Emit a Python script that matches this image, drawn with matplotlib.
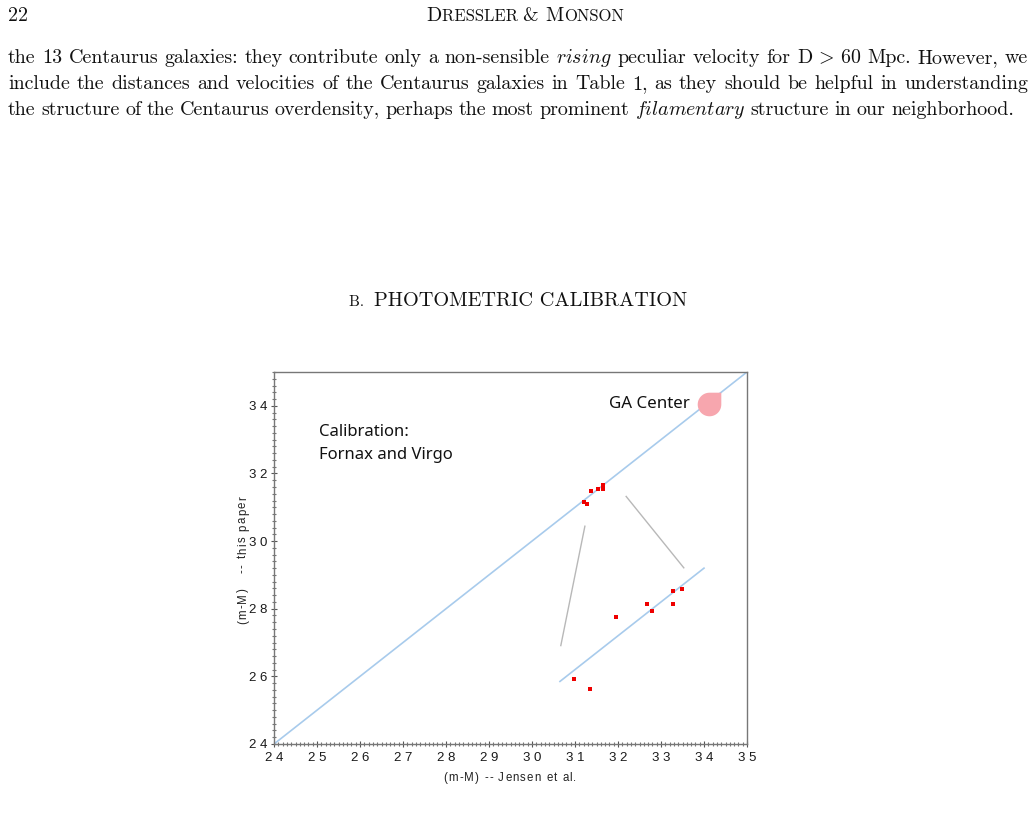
import numpy as np
import matplotlib
matplotlib.use("Agg")
import matplotlib.pyplot as plt
from matplotlib.path import Path
from matplotlib.ticker import MultipleLocator, FuncFormatter

# data
diag_x = [24, 35]
diag_y = [24, 35]
fit_x = [30.65, 34.0]
fit_y = [25.85, 29.2]
grey1_x = [31.23, 30.67]
grey1_y = [30.44, 26.91]
grey2_x = [32.19, 33.53]
grey2_y = [31.32, 29.21]
calib_x = [31.38, 31.53, 31.66, 31.66, 31.22, 31.29]
calib_y = [31.49, 31.55, 31.65, 31.55, 31.15, 31.11]
cen_x = [30.98, 31.36, 31.95, 32.68, 32.78, 33.28, 33.28, 33.48]
cen_y = [25.91, 25.63, 27.77, 28.15, 27.92, 28.15, 28.52, 28.58]
ga_x = [34.12]
ga_y = [34.06]

plt.rcParams["mathtext.fontset"] = "cm"
serif = ["cmr10", "DejaVu Serif"]
sans = ["Liberation Sans", "DejaVu Sans"]

W, H = 1034, 826
fig = plt.figure(figsize=(W / 100, H / 100), dpi=100)
fig.patch.set_facecolor("white")
renderer = fig.canvas.get_renderer()


def px(x, y):
    return x / W, 1 - y / H


def make(items, family=serif, color="#111111", **kw):
    texts = [fig.text(0, 0, s, fontsize=size, family=family, va="baseline", color=color, **kw)
             for s, size in items]
    widths = [t.get_window_extent(renderer).width for t in texts]
    return texts, widths


def line_of_words(words, x0, ybase, size, width=None, space=5.0):
    texts, widths = make([(w, size) for w in words])
    gap = space
    if width is not None and len(words) > 1:
        gap = (width - sum(widths)) / (len(words) - 1)
    x = x0
    for t, w in zip(texts, widths):
        t.set_position(px(x, ybase))
        x += w + gap


def chained(items, xc, ybase):
    texts, widths = make(items)
    x = xc - sum(widths) / 2
    for t, w in zip(texts, widths):
        t.set_position(px(x, ybase))
        x += w


def tracked(s, xc, yc, size, track, vertical=False):
    # letter-spaced label, centred on (xc, yc) in pixels
    chars = list(s)
    texts, widths = make([(c, size) for c in chars], family=sans, color="#222222",
                         rotation=90 if vertical else 0, rotation_mode="anchor")
    sp = fig.text(0, 0, "a a", fontsize=size, family=sans)
    sp2 = fig.text(0, 0, "aa", fontsize=size, family=sans)
    space_w = sp.get_window_extent(renderer).width - sp2.get_window_extent(renderer).width
    sp.remove()
    sp2.remove()
    if vertical:
        widths = [t.get_window_extent(renderer).height for t in texts]
    widths = [space_w if c == " " else w for c, w in zip(chars, widths)]
    total = sum(widths) + track * (len(chars) - 1)
    pos = -total / 2
    for t, w in zip(texts, widths):
        t.set_ha("left")
        if vertical:
            t.set_position(px(xc, yc - pos))
        else:
            t.set_position(px(xc + pos, yc))
        pos += w + track


# page header
fig.text(*px(8, 21), "22", fontsize=14.4, family=serif, va="baseline", color="#111111")
chained([("D", 14.4), ("RESSLER ", 12.0), ("& ", 14.4), ("M", 14.4), ("ONSON", 12.0)], 525, 21)

line1 = ["the", "13", "Centaurus", "galaxies:", "they", "contribute", "only", "a", "non-sensible",
         "$\\mathit{rising}$", "peculiar", "velocity", "for", "D$\\,>\\,$60", "Mpc.", "However,", "we"]
line2 = "include the distances and velocities of the Centaurus galaxies in Table 1, as they should be helpful in understanding".split(" ")
line3 = ["the", "structure", "of", "the", "Centaurus", "overdensity,", "perhaps", "the", "most", "prominent",
         "$\\mathit{filamentary}$", "structure", "in", "our", "neighborhood."]
line_of_words(line1, 8, 63, 14.4, width=1020)
line_of_words(line2, 8, 89, 14.4, width=1020)
line_of_words(line3, 8, 115, 14.4, space=5.5)

chained([("B.  ", 11.0), ("PHOTOMETRIC CALIBRATION", 14.6)], 518, 306)

# chart
ax = fig.add_axes([274 / W, 1 - 744 / H, 473 / W, 372 / H])
ax.plot(diag_x, diag_y, color="#a8cbec", lw=1.2)
ax.plot(fit_x, fit_y, color="#a8cbec", lw=1.2)
ax.plot(grey1_x, grey1_y, color="#b8b8b8", lw=1)
ax.plot(grey2_x, grey2_y, color="#b8b8b8", lw=1)
ax.plot(calib_x, calib_y, "s", color="#ee0000", ms=2.6, mew=0)
ax.plot(cen_x, cen_y, "s", color="#ee0000", ms=2.6, mew=0)

# drop-shaped marker: round except the top-right corner
ang = np.linspace(np.pi / 2, 2 * np.pi, 40)
verts = [(1, 0), (1, 1), (0, 1)] + list(zip(np.cos(ang), np.sin(ang)))
drop = Path(verts + [(1, 0)], [Path.MOVETO] + [Path.LINETO] * (len(verts) - 1) + [Path.CLOSEPOLY])
ax.plot(ga_x, ga_y, marker=drop, color="#f7a6ae", ms=17, mew=0, ls="none")

ax.text(33.67, 34.06, "GA Center", fontsize=12.2, family="Noto Sans", ha="right", va="center", color="#111111")
ax.text(25.05, 33.24, "Calibration:", fontsize=12, family="Noto Sans", ha="left", va="center", color="#111111")
ax.text(25.05, 32.56, "Fornax and Virgo", fontsize=12, family="Noto Sans", ha="left", va="center", color="#111111")

ax.set_xlim(24, 35)
ax.set_ylim(24, 35)
ax.xaxis.set_major_locator(MultipleLocator(1))
ax.xaxis.set_minor_locator(MultipleLocator(0.1))
ax.yaxis.set_major_locator(MultipleLocator(2))
ax.yaxis.set_minor_locator(MultipleLocator(0.2))
spaced = FuncFormatter(lambda v, p: " ".join(str(int(round(v)))))
ax.xaxis.set_major_formatter(spaced)
ax.yaxis.set_major_formatter(spaced)
ax.tick_params(which="major", direction="inout", length=5, width=0.8, color="#555555",
               labelsize=9.5, labelcolor="#1a1a1a", labelfontfamily="Liberation Sans")
ax.tick_params(axis="x", which="major", pad=3)
ax.tick_params(axis="y", which="major", pad=2)
ax.tick_params(which="minor", direction="inout", length=3, width=0.8, color="#777777")
for sp in ax.spines.values():
    sp.set_color("#777777")
    sp.set_linewidth(1)

tracked("(m-M) -- Jensen et al.", 510, 781, 8.3, 1.1)
tracked("(m-M)   -- this paper", 246, 560, 8.3, 1.3, vertical=True)

fig.savefig("out.png", dpi=100, facecolor="white")
